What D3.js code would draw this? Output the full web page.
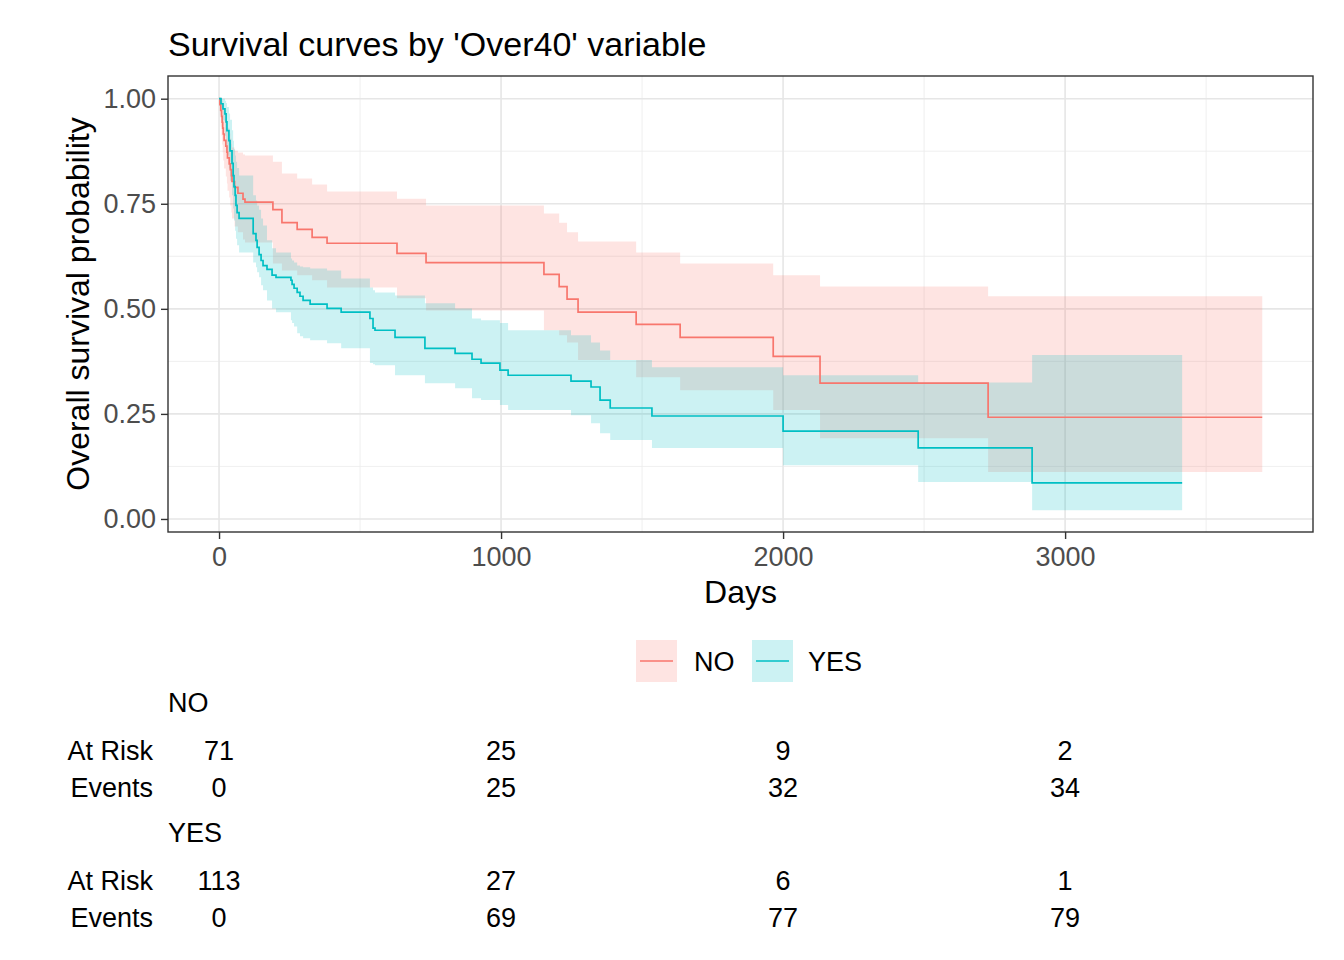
<!DOCTYPE html>
<html>
<head>
<meta charset="utf-8">
<script src="https://cdn.jsdelivr.net/npm/d3@7"></script>
<style>
  html, body { margin: 0; padding: 0; background: #fff; }
  svg { display: block; font-family: "Liberation Sans", Arial, sans-serif; }
</style>
</head>
<body>
<svg id="chart" width="1344" height="960"></svg>
<script>
// ---------------- DATA ----------------
const title = "Survival curves by 'Over40' variable";
const xLabel = "Days";
const yLabel = "Overall survival probability";
const groups = ["NO", "YES"];
const colors = ["#F8766D", "#00BFC4"];

// NO group (Over40 = NO)
const noTime  = [0,3,6,9,11,13,15,18,24,28,30,36,40,44,46,55,67,85,92,191,223,277,330,383,631,734,1152,1206,1234,1273,1479,1635,1965,2131,2727];
const noSurv  = [1,0.986,0.972,0.958,0.944,0.930,0.916,0.901,0.887,0.873,0.859,0.845,0.831,0.817,0.803,0.789,0.775,0.761,0.754,0.736,0.705,0.689,0.670,0.656,0.632,0.610,0.582,0.553,0.523,0.492,0.463,0.432,0.387,0.323,0.242];
const noUpper = [1,1,1,1,0.995,0.988,0.979,0.967,0.955,0.943,0.931,0.917,0.905,0.893,0.884,0.876,0.872,0.867,0.865,0.850,0.822,0.810,0.796,0.779,0.762,0.746,0.727,0.705,0.682,0.660,0.634,0.608,0.580,0.553,0.530];
const noLower = [1,0.960,0.933,0.912,0.891,0.872,0.853,0.834,0.815,0.798,0.781,0.765,0.746,0.729,0.715,0.696,0.682,0.665,0.658,0.608,0.591,0.580,0.568,0.551,0.525,0.496,0.449,0.437,0.420,0.378,0.337,0.306,0.259,0.192,0.112];
const noEnd = 3699;

// YES group (Over40 = YES)
const yesTime  = [0,7,14,21,25,28,35,39,46,50,53,57,60,64,71,121,131,135,142,149,156,170,188,202,255,259,266,277,287,298,323,383,433,535,546,553,624,730,837,897,929,996,1025,1248,1319,1351,1387,1535,2000,2479,2883];
const yesSurv  = [1,0.988,0.976,0.964,0.945,0.924,0.900,0.876,0.846,0.817,0.791,0.770,0.746,0.729,0.715,0.679,0.663,0.646,0.629,0.615,0.603,0.594,0.580,0.575,0.568,0.558,0.549,0.539,0.530,0.520,0.511,0.501,0.492,0.477,0.454,0.449,0.432,0.406,0.394,0.380,0.371,0.354,0.342,0.328,0.314,0.283,0.264,0.245,0.209,0.169,0.086];
const yesUpper = [1,1,1,0.995,0.990,0.980,0.965,0.950,0.925,0.900,0.880,0.865,0.850,0.835,0.817,0.770,0.758,0.746,0.736,0.715,0.698,0.663,0.644,0.634,0.620,0.615,0.610,0.603,0.601,0.599,0.596,0.591,0.572,0.551,0.544,0.539,0.532,0.513,0.501,0.477,0.473,0.466,0.449,0.437,0.420,0.401,0.378,0.361,0.342,0.325,0.390];
const yesLower = [1,0.976,0.948,0.912,0.888,0.865,0.834,0.805,0.770,0.739,0.710,0.686,0.667,0.651,0.634,0.610,0.599,0.587,0.575,0.556,0.544,0.520,0.501,0.492,0.473,0.466,0.458,0.442,0.435,0.430,0.425,0.418,0.406,0.371,0.368,0.366,0.342,0.323,0.311,0.287,0.283,0.271,0.259,0.247,0.228,0.204,0.188,0.169,0.128,0.088,0.021];
const yesEnd = 3415;

// axis ticks
const xTicks = [0, 1000, 2000, 3000];
const xMinor = [500, 1500, 2500, 3500];
const yTicks = [0, 0.25, 0.5, 0.75, 1.0];
const yTickLabels = ["0.00", "0.25", "0.50", "0.75", "1.00"];
const yMinor = [0.125, 0.375, 0.625, 0.875];

// risk table
const riskTimes = [0, 1000, 2000, 3000];
const noAtRisk = [71, 25, 9, 2];
const noEvents = [0, 25, 32, 34];
const yesAtRisk = [113, 27, 6, 1];
const yesEvents = [0, 69, 77, 79];

// ---------------- DRAW ----------------
const svg = d3.select("#chart");
const panel = {left: 168, right: 1313, top: 76, bottom: 532};

const x = d3.scaleLinear().domain([-181, 3879]).range([panel.left, panel.right]);
const y = d3.scaleLinear().domain([-0.031, 1.054]).range([panel.bottom, panel.top]);

// grid
const grid = svg.append("g");
xMinor.forEach(v => grid.append("line").attr("x1", x(v)).attr("x2", x(v)).attr("y1", panel.top).attr("y2", panel.bottom).attr("stroke", "#EBEBEB").attr("stroke-width", 0.8));
yMinor.forEach(v => grid.append("line").attr("y1", y(v)).attr("y2", y(v)).attr("x1", panel.left).attr("x2", panel.right).attr("stroke", "#EBEBEB").attr("stroke-width", 0.8));
xTicks.forEach(v => grid.append("line").attr("x1", x(v)).attr("x2", x(v)).attr("y1", panel.top).attr("y2", panel.bottom).attr("stroke", "#E6E6E6").attr("stroke-width", 1.6));
yTicks.forEach(v => grid.append("line").attr("y1", y(v)).attr("y2", y(v)).attr("x1", panel.left).attr("x2", panel.right).attr("stroke", "#E6E6E6").attr("stroke-width", 1.6));

function build(time, surv, lo, hi, end) {
  const d = time.map((t, i) => ({t, s: surv[i], lo: lo[i], hi: hi[i]}));
  const last = d[d.length - 1];
  d.push({t: end, s: last.s, lo: last.lo, hi: last.hi});
  return d;
}
const series = [
  build(noTime, noSurv, noLower, noUpper, noEnd),
  build(yesTime, yesSurv, yesLower, yesUpper, yesEnd)
];

const area = d3.area().curve(d3.curveStepAfter)
  .x(d => x(d.t)).y0(d => y(d.lo)).y1(d => y(d.hi));
const line = d3.line().curve(d3.curveStepAfter)
  .x(d => x(d.t)).y(d => y(d.s));

series.forEach((d, i) => {
  svg.append("path").attr("d", area(d)).attr("fill", colors[i]).attr("fill-opacity", 0.2).attr("stroke", "none");
});
series.forEach((d, i) => {
  svg.append("path").attr("d", line(d)).attr("fill", "none").attr("stroke", colors[i]).attr("stroke-width", 1.7);
});

// panel border
svg.append("rect").attr("x", panel.left).attr("y", panel.top)
  .attr("width", panel.right - panel.left).attr("height", panel.bottom - panel.top)
  .attr("fill", "none").attr("stroke", "#333333").attr("stroke-width", 1.4);

// axes
const xAxis = d3.axisBottom(x).tickValues(xTicks).tickSize(7).tickPadding(8).tickFormat(d3.format("d"));
const gx = svg.append("g").attr("transform", `translate(0,${panel.bottom})`).call(xAxis);
gx.select(".domain").remove();
gx.selectAll(".tick line").attr("stroke", "#333333").attr("stroke-width", 1.4);
gx.selectAll(".tick text").attr("fill", "#4D4D4D").style("font-size", "27px").style("font-family", "Liberation Sans, Arial, sans-serif");

const yAxis = d3.axisLeft(y).tickValues(yTicks).tickSize(7).tickPadding(5).tickFormat((d, i) => yTickLabels[i]);
const gy = svg.append("g").attr("transform", `translate(${panel.left},0)`).call(yAxis);
gy.select(".domain").remove();
gy.selectAll(".tick line").attr("stroke", "#333333").attr("stroke-width", 1.4);
gy.selectAll(".tick text").attr("fill", "#4D4D4D").style("font-size", "27px").style("font-family", "Liberation Sans, Arial, sans-serif");

// titles
svg.append("text").attr("x", panel.left).attr("y", 56).text(title)
  .style("font-size", "34px").attr("fill", "#000");
svg.append("text").attr("x", (panel.left + panel.right) / 2).attr("y", 603).attr("text-anchor", "middle")
  .text(xLabel).style("font-size", "32px").attr("fill", "#000");
svg.append("text").attr("transform", `translate(89,${(panel.top + panel.bottom) / 2}) rotate(-90)`)
  .attr("text-anchor", "middle").text(yLabel).style("font-size", "32px").attr("fill", "#000");

// legend
const legend = svg.append("g");
const keyX = [636, 752];
const labelX = [694, 808];
groups.forEach((g, i) => {
  legend.append("rect").attr("x", keyX[i]).attr("y", 640).attr("width", 41).attr("height", 42)
    .attr("fill", colors[i]).attr("fill-opacity", 0.2);
  legend.append("line").attr("x1", keyX[i] + 4).attr("x2", keyX[i] + 37).attr("y1", 661).attr("y2", 661)
    .attr("stroke", colors[i]).attr("stroke-width", 1.7);
  legend.append("text").attr("x", labelX[i]).attr("y", 671).text(g).style("font-size", "27px").attr("fill", "#000");
});

// risk table
const table = svg.append("g").style("font-size", "27px");
function riskBlock(name, atRisk, events, yName, yRisk, yEvents) {
  table.append("text").attr("x", panel.left).attr("y", yName).text(name).attr("fill", "#000");
  table.append("text").attr("x", 153).attr("y", yRisk).attr("text-anchor", "end").text("At Risk").attr("fill", "#000");
  table.append("text").attr("x", 153).attr("y", yEvents).attr("text-anchor", "end").text("Events").attr("fill", "#000");
  riskTimes.forEach((t, i) => {
    table.append("text").attr("x", x(t)).attr("y", yRisk).attr("text-anchor", "middle").text(atRisk[i]).attr("fill", "#000");
    table.append("text").attr("x", x(t)).attr("y", yEvents).attr("text-anchor", "middle").text(events[i]).attr("fill", "#000");
  });
}
riskBlock("NO", noAtRisk, noEvents, 712, 760, 797);
riskBlock("YES", yesAtRisk, yesEvents, 842, 890, 927);
</script>
</body>
</html>
